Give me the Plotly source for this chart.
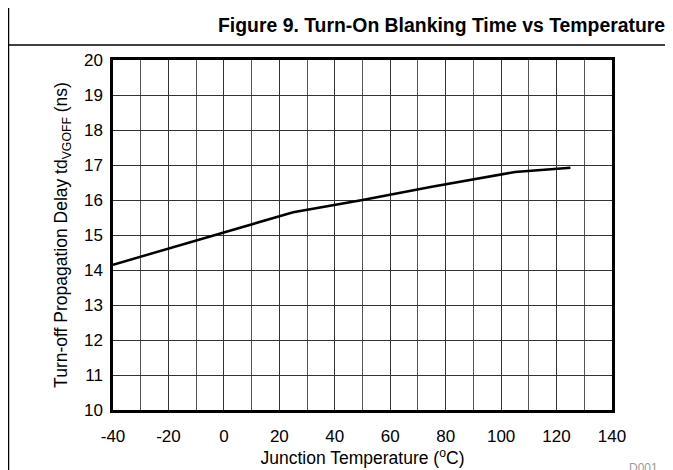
import plotly.graph_objects as go

temperature_c = [-40, 0, 25, 50, 75, 105, 125]
delay_ns = [14.15, 15.07, 15.65, 16.0, 16.38, 16.8, 16.92]

x_ticks = [-40, -20, 0, 20, 40, 60, 80, 100, 120, 140]
x_tick_labels = ["-40", "-20", "0", "20", "40", "60", "80", "100", "120", "140"]
y_ticks = list(range(10, 21))

W, H = 673, 470
L, R, T, B = 105, 604, 52, 402

def px(x):
    return (x - L) / (R - L)

def py(y):
    return (B - y) / (B - T)

fig = go.Figure()
fig.add_trace(go.Scatter(x=temperature_c, y=delay_ns, mode="lines",
                         line=dict(color="black", width=2.5), showlegend=False))

fig.update_layout(
    width=W, height=H,
    margin=dict(l=L, r=W - R, t=T, b=H - B),
    paper_bgcolor="white", plot_bgcolor="white",
    font=dict(family="Liberation Sans, Arial, sans-serif", size=18, color="black"),
    xaxis=dict(range=[-40, 140], tickvals=x_ticks, ticktext=x_tick_labels,
               showgrid=True, gridcolor="#333", gridwidth=1,
               minor=dict(dtick=10, showgrid=True, gridcolor="#555", gridwidth=1),
               showline=True, linecolor="black", linewidth=2.5, mirror=True,
               ticks="", zeroline=False, tickfont=dict(size=17), ticklabelstandoff=9,
               title=dict(text="Junction Temperature (<sup>o</sup>C)", font=dict(size=17.5), standoff=0)),
    yaxis=dict(range=[10, 20], tickvals=y_ticks,
               showgrid=True, gridcolor="#333", gridwidth=1,
               showline=True, linecolor="black", linewidth=2.5, mirror=True,
               ticks="", zeroline=False, tickfont=dict(size=17), ticklabelstandoff=4,
               title=dict(text="Turn-off Propagation Delay td<sub>VGOFF</sub> (ns)", font=dict(size=17.5), standoff=12)),
    shapes=[
        dict(type="line", xref="paper", yref="paper", x0=px(-2), x1=px(W + 5), y0=py(37), y1=py(37),
             line=dict(color="black", width=1.5)),
        dict(type="line", xref="paper", yref="paper", x0=px(0.5), x1=px(0.5), y0=py(-5), y1=py(H + 5),
             line=dict(color="black", width=1.5)),
    ],
    annotations=[
        dict(text="<b>Figure 9. Turn-On Blanking Time vs Temperature</b>", xref="paper", yref="paper",
             x=px(433), y=py(17), showarrow=False, font=dict(size=19.4, color="black"),
             xanchor="center", yanchor="middle"),
        dict(text="D001", xref="paper", yref="paper", x=px(652), y=py(460), showarrow=False,
             font=dict(size=12, color="#999"), xanchor="right", yanchor="middle"),
    ],
)

fig.write_html("out.html")
